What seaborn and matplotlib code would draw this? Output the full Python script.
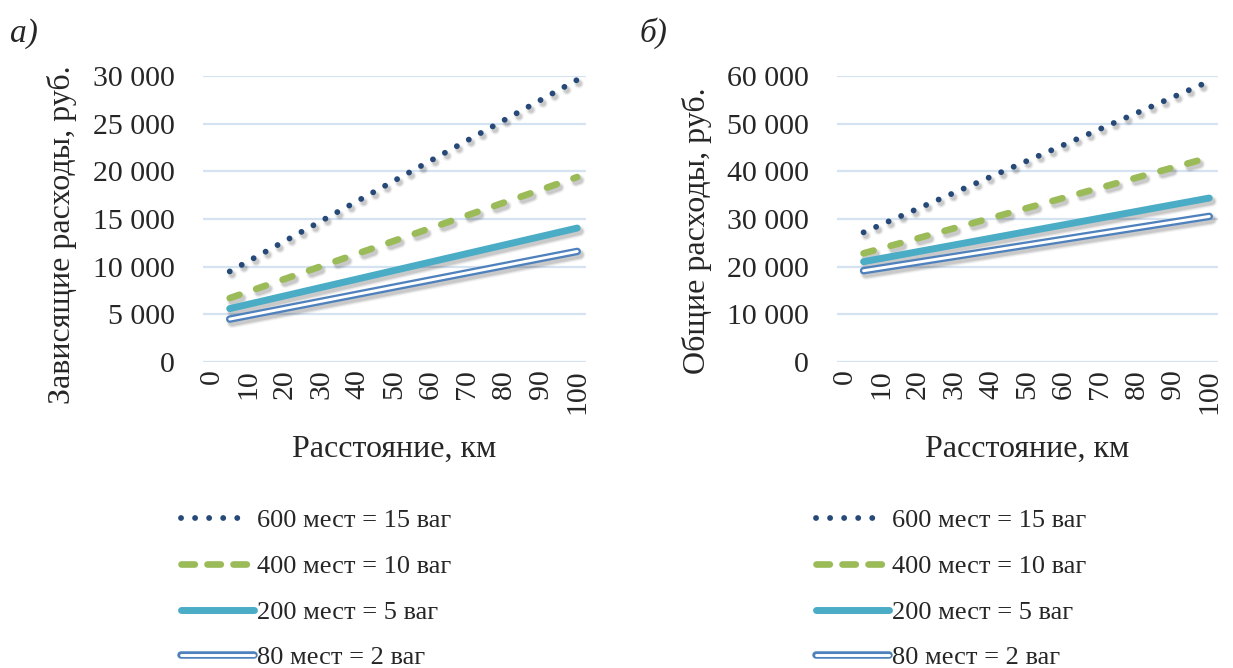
import matplotlib
matplotlib.use("Agg")
import matplotlib.pyplot as plt
import matplotlib.patheffects as pe
from matplotlib.lines import Line2D
from matplotlib.ticker import FuncFormatter
import seaborn as sns

# Distance, km (straight-line relations, two end points per series)
distance = [5, 100]

series_labels = ["600 мест = 15 ваг", "400 мест = 10 ваг", "200 мест = 5 ваг", "80 мест = 2 ваг"]

# а) variable (distance-dependent) costs, rub.
var_600 = [9500, 29600]
var_400 = [6700, 19400]
var_200 = [5600, 14050]
var_80 = [4500, 11600]

# б) total costs, rub.
tot_600 = [27200, 58900]
tot_400 = [22800, 42900]
tot_200 = [21050, 34400]
tot_80 = [19150, 30550]

x_ticks = list(range(0, 101, 10))
panel_titles = ["а)", "б)"]
y_titles = ["Зависящие расходы, руб.", "Общие расходы, руб."]
x_title = "Расстояние, км"

sns.set_theme(style="white")
plt.rcParams["font.family"] = ["Liberation Serif", "DejaVu Serif"]

C_DOT = "#264978"
C_DASH = "#9BBB59"
C_SOLID = "#4BACC6"
C_DBL = "#4F81BD"
C_GRID = "#D5E2F2"

LW_DOT, LW_DASH, LW_SOLID, LW_DBL, LW_DBL_IN = 4.2, 4.8, 5.0, 5.4, 2.1


def soft_shadow(lw):
    off = (1.8, -2.4)
    return [
        pe.SimpleLineShadow(offset=off, shadow_color="black", alpha=0.05, linewidth=lw + 3.0),
        pe.SimpleLineShadow(offset=off, shadow_color="black", alpha=0.07, linewidth=lw + 1.4),
        pe.SimpleLineShadow(offset=off, shadow_color="black", alpha=0.10, linewidth=lw),
        pe.Normal(),
    ]


def draw_panel(ax, ys, ymax, ystep, ylabel, label_y):
    s600, s400, s200, s80 = ys
    # dotted
    sns.lineplot(x=distance, y=s600, ax=ax, color=C_DOT, linewidth=LW_DOT)
    ln = ax.lines[-1]
    ln.set_linestyle((0, (0.01, 2.33)))
    ln.set_dash_capstyle("round")
    ln.set_path_effects(soft_shadow(LW_DOT))
    # dashed
    sns.lineplot(x=distance, y=s400, ax=ax, color=C_DASH, linewidth=LW_DASH)
    ln = ax.lines[-1]
    ln.set_linestyle((0, (1.55, 2.65)))
    ln.set_dash_capstyle("round")
    ln.set_path_effects(soft_shadow(LW_DASH))
    # solid
    sns.lineplot(x=distance, y=s200, ax=ax, color=C_SOLID, linewidth=LW_SOLID)
    ln = ax.lines[-1]
    ln.set_solid_capstyle("round")
    ln.set_path_effects(soft_shadow(LW_SOLID))
    # double (outline) line
    sns.lineplot(x=distance, y=s80, ax=ax, color=C_DBL, linewidth=LW_DBL)
    ln = ax.lines[-1]
    ln.set_solid_capstyle("round")
    ln.set_path_effects(soft_shadow(LW_DBL))
    sns.lineplot(x=distance, y=s80, ax=ax, color="white", linewidth=LW_DBL_IN)
    ax.lines[-1].set_solid_capstyle("round")

    ax.set_xlim(-2.3, 102.4)
    ax.set_ylim(0, ymax)
    ax.set_yticks(range(0, ymax + 1, ystep))
    ax.yaxis.set_major_formatter(FuncFormatter(lambda v, p: f"{int(v):,}".replace(",", " ")))
    ax.set_xticks(x_ticks)
    ax.set_xticklabels([str(t) for t in x_ticks], rotation=90)
    ax.tick_params(axis="y", labelsize=21.5, pad=20, length=0)
    ax.tick_params(axis="x", labelsize=21.5, pad=5, length=0)
    ax.grid(axis="y", color=C_GRID, linewidth=1.6)
    ax.grid(axis="x", visible=False)
    for sp in ax.spines.values():
        sp.set_visible(False)
    ax.set_xlabel(x_title, fontsize=23)
    ax.set_ylabel(ylabel, fontsize=23)
    ax.yaxis.set_label_coords(-0.329, label_y)
    ax.xaxis.set_label_coords(0.5, -0.255)


fig = plt.figure(figsize=(12.33, 6.68), dpi=100)
W, H = 1233, 668
ax_a = fig.add_axes([203 / W, 1 - 362 / H, (586 - 203) / W, (362 - 76) / H])
ax_b = fig.add_axes([837 / W, 1 - 362 / H, (1218 - 837) / W, (362 - 76) / H])

draw_panel(ax_a, (var_600, var_400, var_200, var_80), 30000, 5000, y_titles[0], 0.444)
draw_panel(ax_b, (tot_600, tot_400, tot_200, tot_80), 60000, 10000, y_titles[1], 0.458)

fig.text(10 / W, 1 - 42 / H, panel_titles[0], fontsize=24, style="italic")
fig.text(640 / W, 1 - 42 / H, panel_titles[1], fontsize=24, style="italic")


def legend_handles():
    h1 = Line2D([], [], color=C_DOT, linewidth=LW_DOT,
                linestyle=(0, (0.01, 2.4, 0.01, 2.4, 0.01, 2.4, 0.01, 2.4, 0.01, 12)),
                dash_capstyle="round")
    h2 = Line2D([], [], color=C_DASH, linewidth=LW_DASH, linestyle=(0, (2.0, 1.9)),
                dash_capstyle="round")
    h3 = Line2D([], [], color=C_SOLID, linewidth=LW_SOLID, solid_capstyle="round")
    h4a = Line2D([], [], color=C_DBL, linewidth=LW_DBL, solid_capstyle="round")
    h4b = Line2D([], [], color="white", linewidth=LW_DBL_IN, solid_capstyle="round")
    return [h1, h2, h3, (h4a, h4b)]


for x0 in (181, 816):
    fig.legend(legend_handles(), series_labels, loc="upper left",
               bbox_to_anchor=(x0 / W, 1 - 509 / H), frameon=False,
               fontsize=19, handlelength=2.75, handletextpad=0.12,
               labelspacing=0.84, borderaxespad=0, borderpad=0)

fig.savefig("out.png", dpi=100)
